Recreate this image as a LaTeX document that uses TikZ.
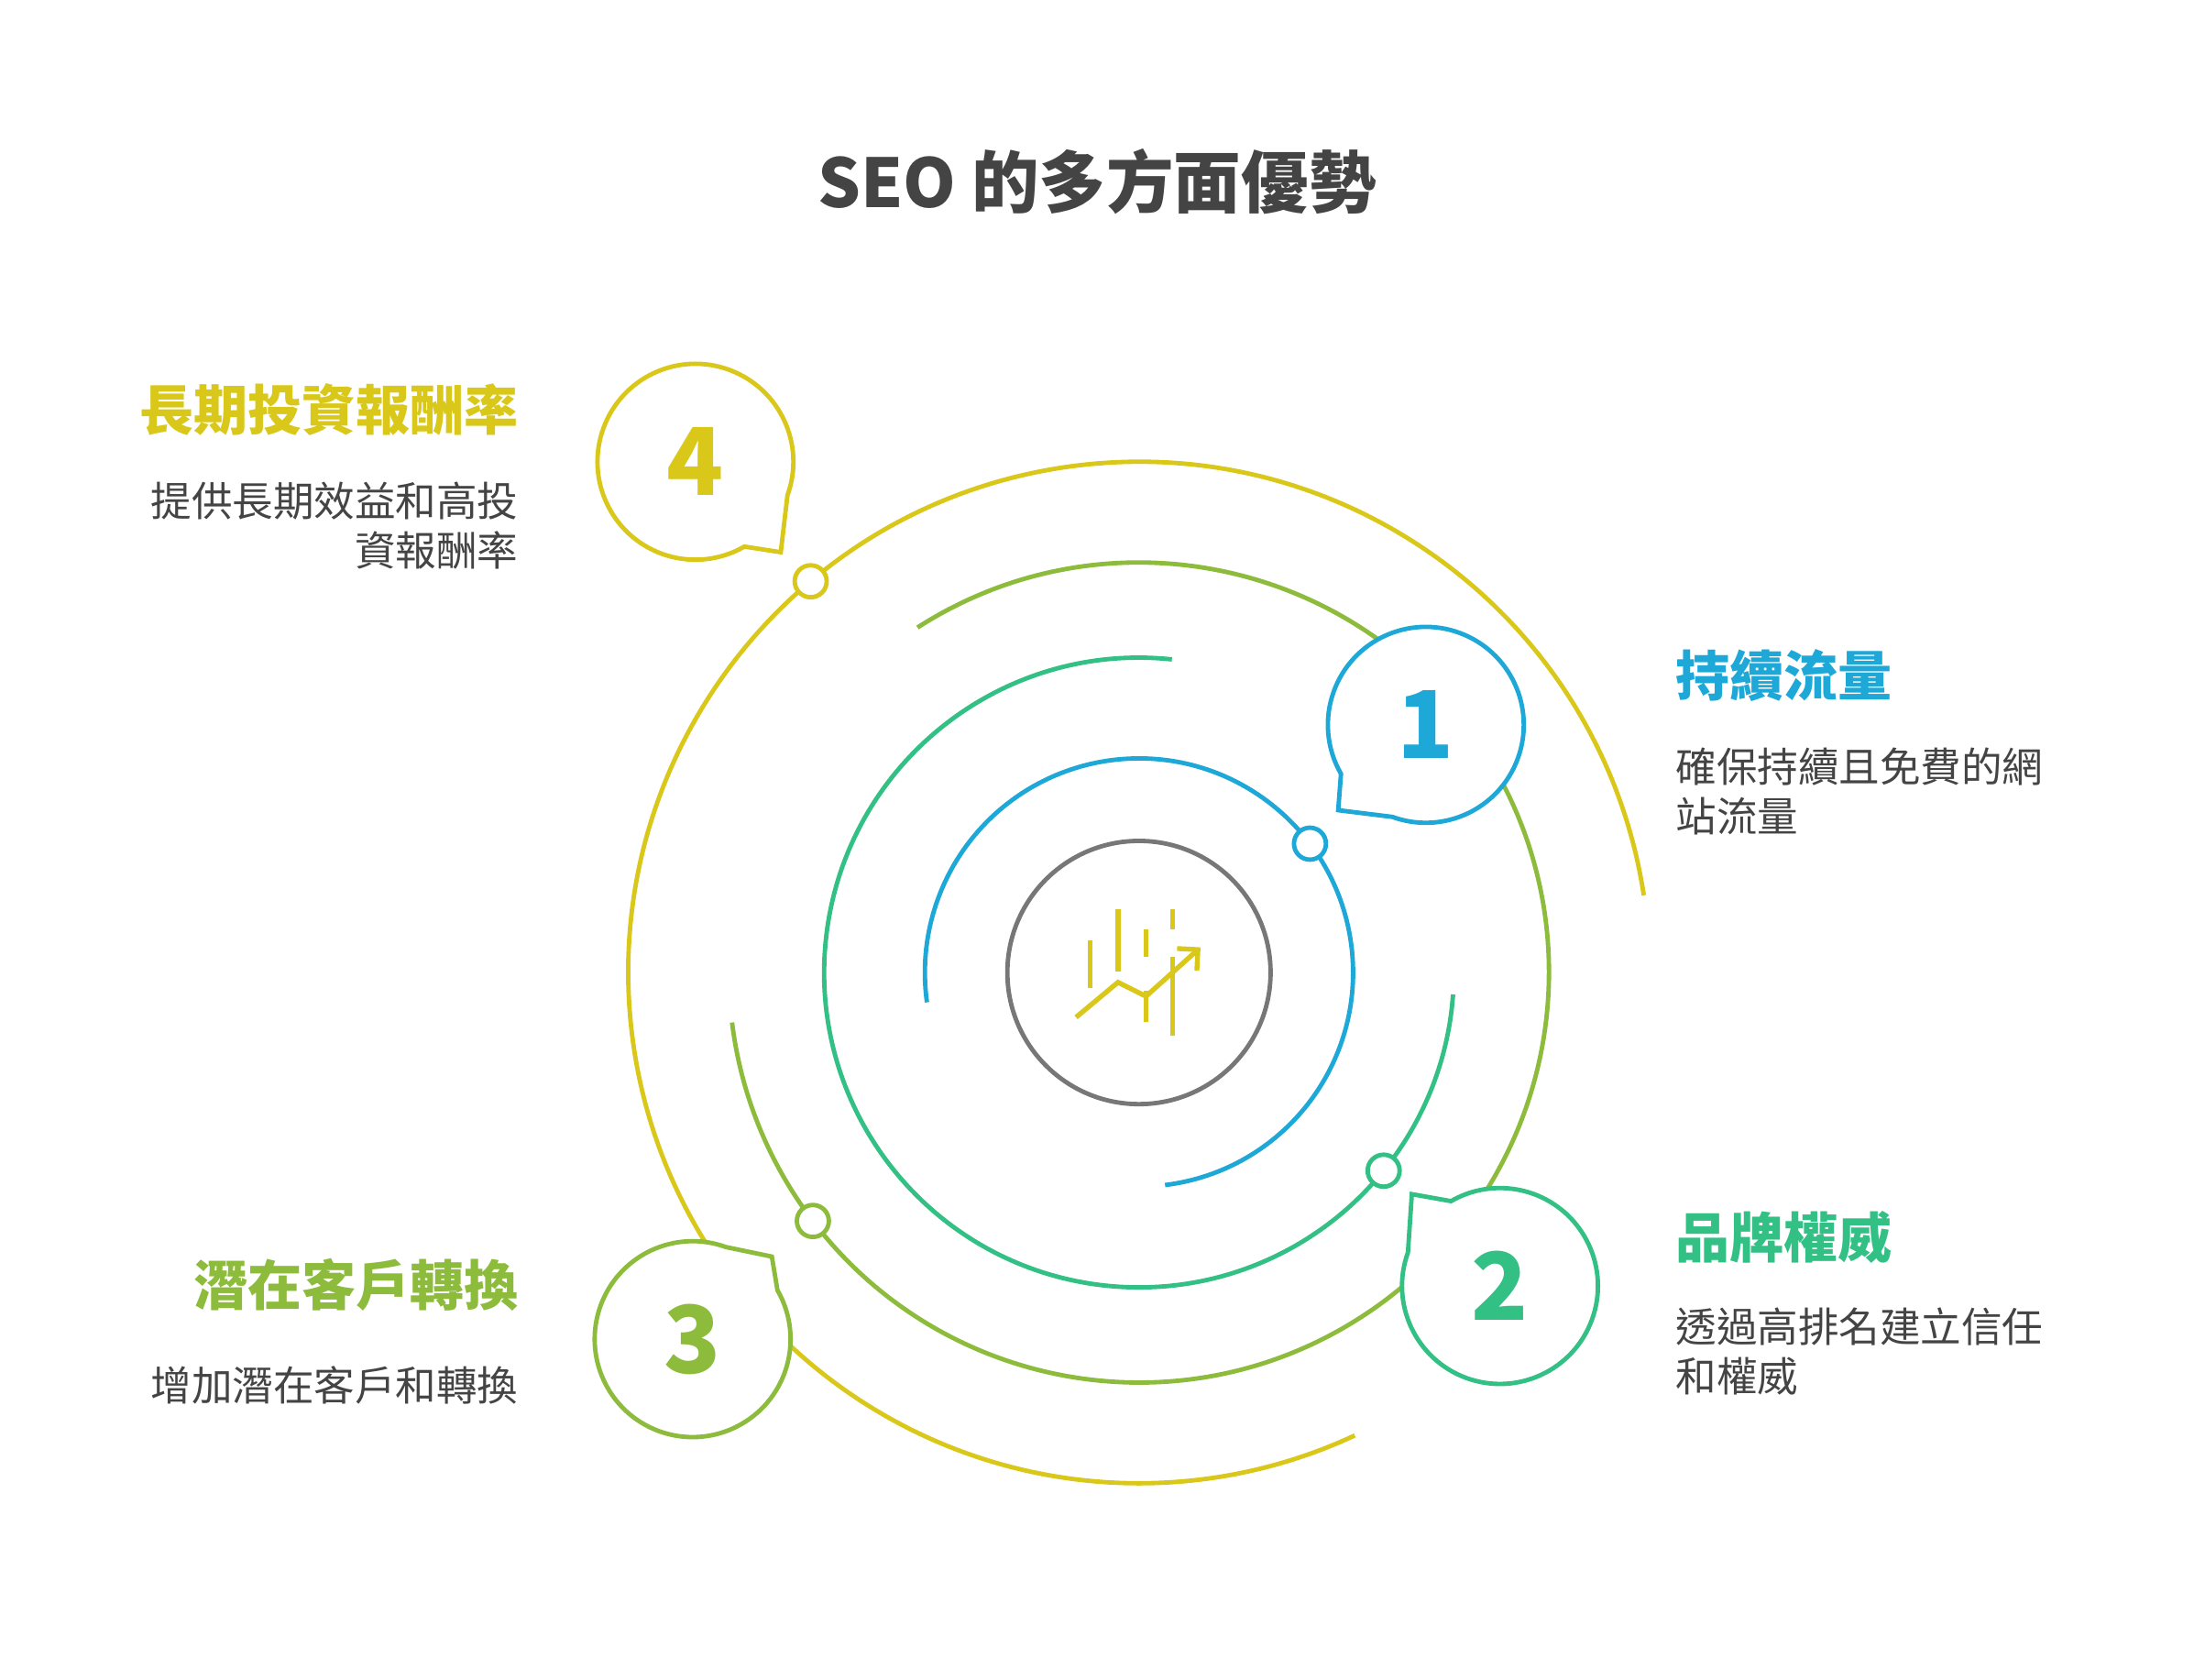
\documentclass[tikz,border=0pt]{standalone}
\usepackage{fontspec}
\setmainfont{Noto Sans CJK TC}
\usetikzlibrary{arrows.meta}
\definecolor{cy}{HTML}{D9C81A}
\definecolor{co}{HTML}{8DBB3C}
\definecolor{cg}{HTML}{33C085}
\definecolor{cb}{HTML}{1EA8D8}
\definecolor{cgr}{HTML}{777777}
\definecolor{ct}{HTML}{444444}
\begin{document}
\begin{tikzpicture}[x=0.01cm,y=0.01cm,line width=0.9pt,
  dot/.style={circle,draw,fill=white,line width=0.9pt,minimum size=6.5pt,inner sep=0pt},
  num/.style={font=\fontsize{19}{20}\selectfont\bfseries},
  head/.style={font=\fontsize{11}{12}\selectfont\bfseries,inner sep=0pt},
  body/.style={font=\fontsize{8.3}{10}\selectfont,text=ct,inner sep=0pt}]
\useasboundingbox (0,0) rectangle (1568,1200);
\coordinate (c) at (814,505);
\node[font=\fontsize{13.7}{14}\selectfont\bfseries,text=ct] (title) at (784,1070) {SEO 的多方面優勢};
% arcs
\draw[cy] ([shift={(8.7:365)}]c) arc (8.7:295:365);
\draw[co] ([shift={(122.7:293)}]c) arc (122.7:-173:293);
\draw[cg] ([shift={(84:225)}]c) arc (84:356:225);
\draw[cb] ([shift={(-83:153)}]c) arc (-83:188:153);
\node[circle,draw=cgr,minimum size=1.88cm,inner sep=0pt] (center) at (c) {};
% dots
\node[dot,draw=cb] (d1) at ([shift={(37:153)}]c) {};
\node[dot,draw=cg] (d2) at ([shift={(-39:225)}]c) {};
\node[dot,draw=co] (d3) at ([shift={(-142.7:293)}]c) {};
\node[dot,draw=cy] (d4) at ([shift={(130:365)}]c) {};
% bubbles
\coordinate (b1) at (1019,682);
\coordinate (b2) at (1072,281);
\coordinate (b3) at (495,243);
\coordinate (b4) at (497,870);
\draw[cb,fill=white] ([shift={(250:70)}]b1) arc (250:570:70) -- ++(-2,-26) -- cycle;
\draw[cg,fill=white] ([shift={(160:70)}]b2) arc (160:480:70) -- ++(-28,5) -- cycle;
\draw[co,fill=white] ([shift={(70:70)}]b3) arc (70:390:70) -- ++(-4,24) -- cycle;
\draw[cy,fill=white] ([shift={(-20:70)}]b4) arc (-20:300:70) -- ++(26,-4) -- cycle;
\node[num,text=cb] (n1) at (b1) {1};
\node[num,text=cg] (n2) at (b2) {2};
\node[num,text=co] (n3) at (b3) {3};
\node[num,text=cy] (n4) at (b4) {4};
% icon
\begin{scope}[cy,line width=1pt]
\draw (779,528) -- (779,494);
\draw (799,550) -- (799,506);
\draw (819,536) -- (819,516);
\draw (819,492) -- (819,470);
\draw (838,550) -- (838,536);
\draw (838,516) -- (838,460);
\draw[-{Straight Barb[length=3pt]}] (769,473) -- (799,498) -- (819,488) -- (858,523);
\end{scope}
% texts
\node[head,text=cy,anchor=east] (h4) at (372,907) {長期投資報酬率};
\node[body,anchor=north east,align=right] (t4) at (372,857) {提供長期效益和高投\\資報酬率};
\node[head,text=cb,anchor=west] (h1) at (1196,717) {持續流量};
\node[body,anchor=north west,align=left] (t1) at (1196,667) {確保持續且免費的網\\站流量};
\node[head,text=cg,anchor=west] (h2) at (1196,316) {品牌權威};
\node[body,anchor=north west,align=left] (t2) at (1196,267) {透過高排名建立信任\\和權威};
\node[head,text=co,anchor=east] (h3) at (372,282) {潛在客戶轉換};
\node[body,anchor=east] (t3) at (372,210) {增加潛在客戶和轉換};
\end{tikzpicture}
\end{document}
